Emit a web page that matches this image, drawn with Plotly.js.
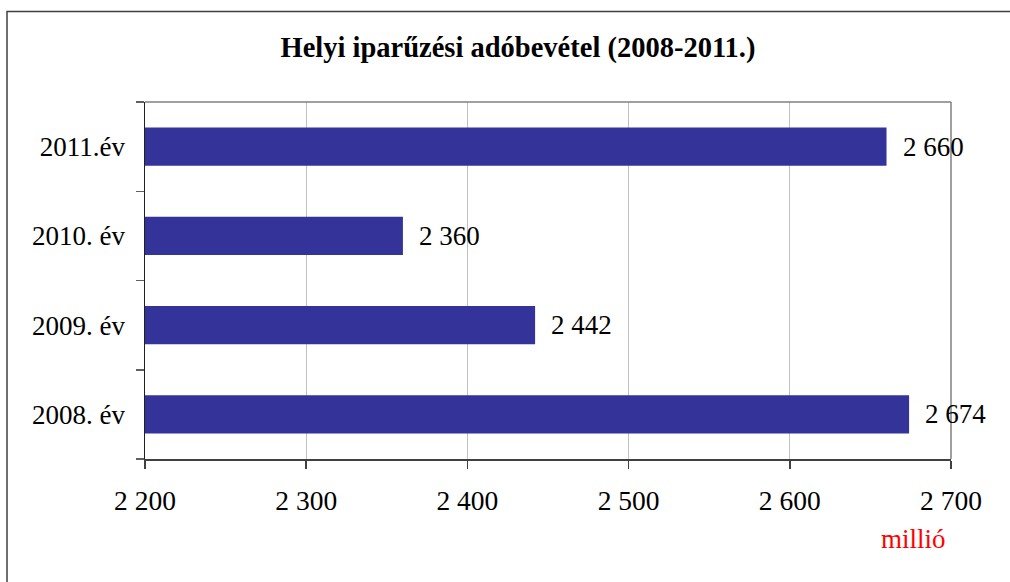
<!DOCTYPE html>
<html>
<head>
<meta charset="utf-8">
<script src="https://cdn.plot.ly/plotly-3.0.1.min.js"></script>
<style>
  html, body { margin: 0; padding: 0; background: #fff; }
  #chart { width: 1010px; height: 582px; }
</style>
</head>
<body>
<div id="chart"></div>
<script>
// Data
const categories = ["2008. év", "2009. év", "2010. év", "2011.év"];
const values = [2674, 2442, 2360, 2660];
const chartTitle = "Helyi iparűzési adóbevétel (2008-2011.)";
const unitLabel = "millió";

function fmt(v) {
  return String(v).replace(/\B(?=(\d{3})+(?!\d))/g, " ");
}

const W = 1010, H = 582;
const mL = 145, mR = 59, mT = 102, mB = 123;
const pw = W - mL - mR, ph = H - mT - mB;
const px = x => (x - mL) / pw;           // pixel x -> paper
const py = y => (H - mB - y) / ph;       // pixel y -> paper

const font = "Liberation Serif, Times New Roman, serif";

const trace = {
  type: "bar",
  orientation: "h",
  x: values,
  y: categories,
  marker: { color: "#333399", line: { width: 0 } },
  width: 0.43,
  hoverinfo: "none"
};

const annotations = values.map((v, i) => ({
  x: v, y: categories[i], xref: "x", yref: "y",
  text: fmt(v), showarrow: false, xanchor: "left", yanchor: "middle",
  xshift: 14, font: { family: font, size: 27, color: "#000" }
}));
annotations.push({
  xref: "paper", yref: "paper", x: px(948), y: py(539),
  text: unitLabel, showarrow: false, xanchor: "right", yanchor: "middle",
  font: { family: font, size: 27, color: "#ff0000" }
});

const layout = {
  width: W, height: H,
  margin: { l: mL, r: mR, t: mT, b: mB, pad: 0 },
  paper_bgcolor: "#fff", plot_bgcolor: "#fff",
  separators: ". ",
  showlegend: false,
  title: {
    text: chartTitle,
    x: 518 / W, xref: "container", xanchor: "center",
    y: 1 - 47 / H, yref: "container", yanchor: "middle",
    font: { family: font, size: 28.5, color: "#000", weight: "bold" }
  },
  xaxis: {
    range: [2200, 2700],
    dtick: 100, tick0: 2200,
    tickformat: ",d",
    showgrid: true, gridcolor: "#c0c0c0", gridwidth: 1,
    zeroline: false,
    showline: true, linecolor: "#404040", linewidth: 1.5,
    ticks: "outside", ticklen: 8, tickcolor: "#404040", tickwidth: 1.5,
    ticklabelstandoff: 8,
    tickfont: { family: font, size: 27.5, color: "#000" },
    fixedrange: true
  },
  yaxis: {
    type: "category",
    categoryorder: "array", categoryarray: categories,
    showgrid: false, zeroline: false,
    showline: true, linecolor: "#202020", linewidth: 1.5,
    ticks: "outside", tickson: "boundaries", ticklen: 8, tickcolor: "#606060", tickwidth: 1.5,
    ticklabelstandoff: 13,
    tickfont: { family: font, size: 27, color: "#000" },
    fixedrange: true
  },
  bargap: 0.57,
  annotations: annotations,
  shapes: [
    // plot area top and right border
    { type: "line", xref: "paper", yref: "paper", x0: 0, x1: 1, y0: 1, y1: 1,
      line: { color: "#808080", width: 1.5 }, layer: "above" },
    { type: "line", xref: "paper", yref: "paper", x0: 1, x1: 1, y0: 0, y1: 1,
      line: { color: "#808080", width: 1.5 }, layer: "above" },
    // outer frame
    { type: "rect", xref: "paper", yref: "paper",
      x0: px(7), x1: px(1020), y0: py(600), y1: py(11.5),
      line: { color: "#404040", width: 1.5 }, fillcolor: "rgba(0,0,0,0)", layer: "below" }
  ]
};

Plotly.newPlot("chart", [trace], layout, { displayModeBar: false, staticPlot: true });
</script>
</body>
</html>
